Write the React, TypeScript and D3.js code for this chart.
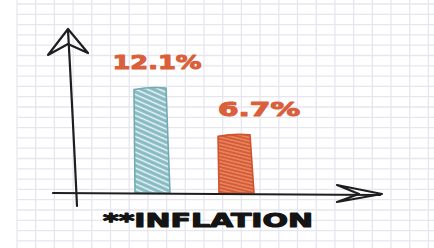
import React from "react";
import * as d3 from "d3";

// ---- data ----
const categories = ["Before", "After"];
const values = [12.1, 6.7];
const valueLabels = values.map((v) => d3.format(".1f")(v) + "%");
const axisTitle = "**INFLATION";

// ---- layout / style ----
const W = 434;
const H = 248;
const baseY = 193;
const topY = 88;
const barW = 32;
const barFills = ["url(#hatchBlue)", "url(#hatchOrange)"];
const barStrokes = ["#74aab3", "#cf5530"];
const labelColor = "#d9603b";
const labelDx = [7, 25];
const labelWidths = [89, 82];

export default function App() {
  const x = d3.scalePoint<string>().domain(categories).range([150, 234]);
  const y = d3.scaleLinear().domain([0, 12.1]).range([baseY, topY]);

  const gridX = d3.range(17, W, 18.7);
  const gridY = d3.range(4, H, 10.3);

  const barPath = (c: number, top: number) => {
    const p = d3.path();
    p.moveTo(c - barW / 2, top + 1.5);
    p.quadraticCurveTo(c, top - 1.5, c + barW / 2, top);
    p.lineTo(c + barW / 2 + 4, baseY);
    p.lineTo(c - barW / 2 + 1, baseY);
    p.closePath();
    return p.toString();
  };

  return (
    <svg
      width={W}
      height={H}
      style={{ position: "absolute", left: 0, top: 0, background: "#fff" }}
    >
      <defs>
        <pattern
          id="hatchBlue"
          patternUnits="userSpaceOnUse"
          width={10}
          height={4.8}
          patternTransform="rotate(24)"
        >
          <rect width={10} height={4.8} fill="#86bac3" />
          <line x1={0} x2={10} y1={2.4} y2={2.4} stroke="#eef7f8" strokeWidth={1.5} />
        </pattern>
        <pattern
          id="hatchOrange"
          patternUnits="userSpaceOnUse"
          width={10}
          height={3.4}
          patternTransform="rotate(14)"
        >
          <rect width={10} height={3.4} fill="#d65a33" />
          <line x1={0} x2={10} y1={1.7} y2={1.7} stroke="#f0a080" strokeWidth={1} />
        </pattern>
      </defs>

      {/* grid paper */}
      <g stroke="#e6e6ef" strokeWidth={1.3}>
        {gridX.map((gx, i) => (
          <line key={"gx" + i} x1={gx} x2={gx} y1={0} y2={H} />
        ))}
        {gridY.map((gy, i) => (
          <line key={"gy" + i} x1={17} x2={W} y1={gy} y2={gy} />
        ))}
      </g>

      {/* bars */}
      {categories.map((c, i) => (
        <path
          key={c}
          d={barPath(x(c)!, y(values[i]))}
          fill={barFills[i]}
          stroke={barStrokes[i]}
          strokeWidth={1.6}
          strokeLinejoin="round"
        />
      ))}

      {/* value labels */}
      {categories.map((c, i) => (
        <text
          key={"l" + c}
          x={x(c)! + labelDx[i]}
          y={y(values[i]) - 19}
          textAnchor="middle"
          fill={labelColor}
          stroke={labelColor}
          strokeWidth={1.1}
          strokeLinejoin="round"
          fontFamily="DejaVu Sans"
          fontWeight="bold"
          fontSize={20}
          textLength={labelWidths[i]}
          lengthAdjust="spacingAndGlyphs"
        >
          {valueLabels[i]}
        </text>
      ))}

      {/* hand-drawn axes */}
      <g fill="none" stroke="#1e1e1e" strokeWidth={2.2} strokeLinecap="round" strokeLinejoin="round">
        <path d={`M77,206 Q73,120 68,30`} />
        <path d={`M68,29 L48,55 L68,44 L88,53 Z`} />
        <path d={`M53,193 L380,195`} />
        <path d={`M382,194 L337,185 L359,194 L337,202 Z`} />
      </g>

      {/* axis title */}
      <text
        x={103}
        y={227}
        fill="#141414"
        stroke="#141414"
        strokeWidth={1.1}
        strokeLinejoin="round"
        fontFamily="DejaVu Sans"
        fontWeight="bold"
        fontSize={19}
        textLength={210}
        lengthAdjust="spacingAndGlyphs"
      >
        {axisTitle}
      </text>
    </svg>
  );
}
